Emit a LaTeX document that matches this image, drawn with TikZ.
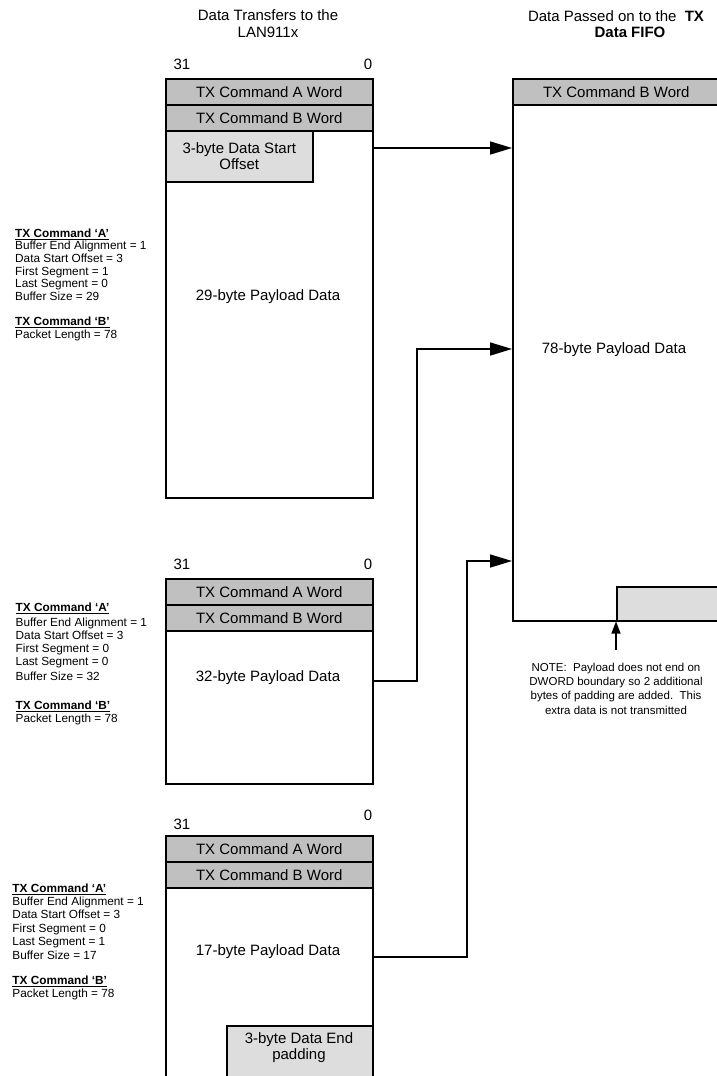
\documentclass[tikz,border=0pt]{standalone}
\usepackage{fontspec}
\setmainfont{Liberation Sans}
\usetikzlibrary{arrows.meta,calc}
\definecolor{hdrgray}{HTML}{C0C0C0}
\definecolor{padgray}{HTML}{DDDDDD}
\begin{document}
\begin{tikzpicture}[x=1pt,y=-1pt,
  cell/.style={draw=black, line width=1.5pt, inner sep=0pt, anchor=north west},
  hdrcell/.style={cell, fill=hdrgray, font=\fontsize{15}{17}\selectfont},
  padcell/.style={cell, fill=padgray, font=\fontsize{15}{17}\selectfont, align=center},
  btxt/.style={inner sep=0pt, font=\fontsize{15}{17}\selectfont, align=center},
  ltxt/.style={inner sep=0pt, anchor=west, text height=8.4pt, text depth=0pt, font=\fontsize{11.8}{13}\selectfont},
  notetxt/.style={inner sep=0pt, align=center, font=\fontsize{11.5}{14.4}\selectfont},
  conn/.style={line width=1.6pt, -{Triangle[length=22pt,width=13pt]}},
  noteconn/.style={line width=1.3pt, -{Triangle[length=12pt,width=9pt]}}
]
\useasboundingbox (0,0) rectangle (717,1076);
\clip (0,0) rectangle (717,1076);

% headers
\node[btxt] (hl) at (268,24) {Data Transfers to the\\LAN911x};
\node[btxt] (hr1) at (616,16) {Data Passed on to the\ \ \textbf{TX}};
\node[btxt] (hr2) at (630,32) {\textbf{Data FIFO}};

% ---------- Box 1 ----------
\node[btxt] (b1hi) at (182,64) {31};
\node[btxt] (b1lo) at (368,64) {0};
\node[cell, minimum width=207pt, minimum height=367pt] (b1body) at (165,130) {};
\node[hdrcell, minimum width=207pt, minimum height=26pt] (b1a) at (165,78) {TX Command A Word};
\node[hdrcell, minimum width=207pt, minimum height=26pt] (b1b) at (165,104) {TX Command B Word};
\node[padcell, minimum width=147pt, minimum height=51pt] (b1off) at (165,130) {3-byte Data Start\\[-1pt]Offset};
\node[btxt] (b1t) at (268,297) {29-byte Payload Data};

% ---------- Box 2 ----------
\node[btxt] (b2hi) at (182,564) {31};
\node[btxt] (b2lo) at (368,564) {0};
\node[cell, minimum width=207pt, minimum height=153pt] (b2body) at (165,630) {};
\node[hdrcell, minimum width=207pt, minimum height=26pt] (b2a) at (165,578) {TX Command A Word};
\node[hdrcell, minimum width=207pt, minimum height=26pt] (b2b) at (165,604) {TX Command B Word};
\node[btxt] (b2t) at (268,678) {32-byte Payload Data};

% ---------- Box 3 ----------
\node[btxt] (b3hi) at (182,824) {31};
\node[btxt] (b3lo) at (368,815) {0};
\node[cell, minimum width=207pt, minimum height=210pt] (b3body) at (165,887) {};
\node[hdrcell, minimum width=207pt, minimum height=26pt] (b3a) at (165,835) {TX Command A Word};
\node[hdrcell, minimum width=207pt, minimum height=26pt] (b3b) at (165,861) {TX Command B Word};
\node[cell, fill=padgray, minimum width=146pt, minimum height=70pt] (b3pad) at (226,1025) {};
\node[btxt] (b3padt) at (299,1048) {3-byte Data End\\[-1pt]padding};
\node[btxt] (b3t) at (268,952) {17-byte Payload Data};

% ---------- Right box (TX Data FIFO) ----------
\node[cell, minimum width=220pt, minimum height=516pt] (rbody) at (512,104) {};
\node[hdrcell, minimum width=220pt, minimum height=26pt] (ra) at (512,78) {\hspace*{-13pt}TX Command B Word};
\node[cell, fill=padgray, minimum width=120pt, minimum height=34pt] (rpad) at (616,586) {};
\node[btxt] (rt) at (614,350) {78-byte Payload Data};

% note
\node[notetxt] (note) at (616,688.5) {NOTE:\ \ Payload does not end on\\DWORD boundary so 2 additional\\bytes of padding are added.\ \ This\\extra data is not transmitted};
\coordinate (nstart) at (616,650);
\draw[noteconn] (nstart) -- (rpad.south west);

% connectors
\draw[conn] ($(b1body.north east)+(0,18)$) -- ($(rbody.north west)+(0,44)$);
\coordinate (k2) at (417,349);
\draw[conn] ($(b2body.north east)+(0,51)$) -| (k2) -- (k2 -| rbody.west);
\coordinate (k3) at (467,561);
\draw[conn] ($(b3body.north east)+(0,70)$) -| (k3) -- (k3 -| rbody.west);

% ---------- left descriptions ----------
% block 1
\node[ltxt] (l1a) at (15,233) {\underline{\textbf{TX Command ‘A’}}};
\node[ltxt] (l1b) at (15,245.5) {Buffer End Alignment = 1};
\node[ltxt] (l1c) at (15,258) {Data Start Offset = 3};
\node[ltxt] (l1d) at (15,271) {First Segment = 1};
\node[ltxt] (l1e) at (15,283.5) {Last Segment = 0};
\node[ltxt] (l1f) at (15,296.5) {Buffer Size = 29};
\node[ltxt] (l1g) at (15,321) {\underline{\textbf{TX Command ‘B’}}};
\node[ltxt] (l1h) at (15,334) {Packet Length = 78};
% block 2
\node[ltxt] (l2a) at (15.5,607) {\underline{\textbf{TX Command ‘A’}}};
\node[ltxt] (l2b) at (15.5,622) {Buffer End Alignment = 1};
\node[ltxt] (l2c) at (15.5,635) {Data Start Offset = 3};
\node[ltxt] (l2d) at (15.5,648) {First Segment = 0};
\node[ltxt] (l2e) at (15.5,661.5) {Last Segment = 0};
\node[ltxt] (l2f) at (15.5,676) {Buffer Size = 32};
\node[ltxt] (l2g) at (15.5,705) {\underline{\textbf{TX Command ‘B’}}};
\node[ltxt] (l2h) at (15.5,718) {Packet Length = 78};
% block 3
\node[ltxt] (l3a) at (12.3,888) {\underline{\textbf{TX Command ‘A’}}};
\node[ltxt] (l3b) at (12.3,901) {Buffer End Alignment = 1};
\node[ltxt] (l3c) at (12.3,914.5) {Data Start Offset = 3};
\node[ltxt] (l3d) at (12.3,928) {First Segment = 0};
\node[ltxt] (l3e) at (12.3,941.5) {Last Segment = 1};
\node[ltxt] (l3f) at (12.3,955) {Buffer Size = 17};
\node[ltxt] (l3g) at (12.3,980) {\underline{\textbf{TX Command ‘B’}}};
\node[ltxt] (l3h) at (12.3,993) {Packet Length = 78};
\end{tikzpicture}
\end{document}
